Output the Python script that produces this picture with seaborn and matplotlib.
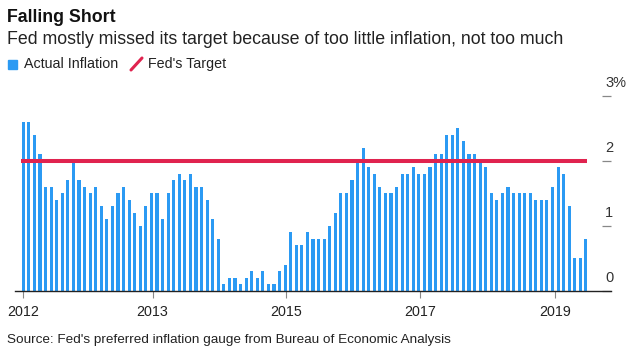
import matplotlib
matplotlib.use("Agg")
import matplotlib.pyplot as plt
import matplotlib.lines as mlines
import matplotlib.patches as mpatches
import seaborn as sns

# monthly inflation readings (%)
inflation = [2.6, 2.6, 2.4, 2.1, 1.6, 1.6, 1.4, 1.5, 1.7, 2.0, 1.7, 1.6,
             1.5, 1.6, 1.3, 1.1, 1.3, 1.5, 1.6, 1.4, 1.2, 1.0, 1.3, 1.5,
             1.5, 1.1, 1.5, 1.7, 1.8, 1.7, 1.8, 1.6, 1.6, 1.4, 1.1, 0.8,
             0.1, 0.2, 0.2, 0.1, 0.2, 0.3, 0.2, 0.3, 0.1, 0.1, 0.3, 0.4,
             0.9, 0.7, 0.7, 0.9, 0.8, 0.8, 0.8, 1.0, 1.2, 1.5, 1.5, 1.7,
             2.0, 2.2, 1.9, 1.8, 1.6, 1.5, 1.5, 1.6, 1.8, 1.8, 1.9, 1.8,
             1.8, 1.9, 2.1, 2.1, 2.4, 2.4, 2.5, 2.3, 2.1, 2.1, 2.0, 1.9,
             1.5, 1.4, 1.5, 1.6, 1.5, 1.5, 1.5, 1.5, 1.4, 1.4, 1.4, 1.6,
             1.9, 1.8, 1.3, 0.5, 0.5, 0.8]
target = 2.0
year_labels = ["2012", "2013", "2015", "2017", "2019"]
year_pos = [0, 23.2, 47.2, 71.3, 95.4]
y_ticks = [0, 1, 2, 3]
y_labels = ["0", "1", "2", "3%"]

BLUE = "#2b9af3"
RED = "#e0234f"

sns.set_style("white")
plt.rcParams["font.family"] = ["Liberation Sans", "DejaVu Sans"]

fig = plt.figure(figsize=(6.3, 3.53), dpi=100)
W, H = 630, 353
ax = fig.add_axes([15 / W, (H - 291) / H, (611 - 15) / W, (291 - 92.4) / H])

sns.barplot(x=list(range(len(inflation))), y=inflation, color=BLUE,
            width=0.56, saturation=1, linewidth=0, edgecolor="none", ax=ax)
ax.hlines(target, -0.4, len(inflation) - 0.8, color=RED, lw=2.9, zorder=5)

ax.set_xlim(-1.49, 105.5)
ax.set_ylim(0, 3.05)
for s in ["top", "left", "right"]:
    ax.spines[s].set_visible(False)
ax.spines["bottom"].set_color("#222222")
ax.spines["bottom"].set_linewidth(1.0)

ax.set_xticks(year_pos)
ax.set_xticklabels(year_labels, fontsize=10.3, color="#222222")
ax.tick_params(axis="x", length=5, width=0.8, color="#888888", pad=5,
               bottom=True)

ax.yaxis.tick_right()
ax.set_yticks(y_ticks)
ax.set_yticklabels([])
ax.tick_params(axis="y", direction="in", length=6.5, width=0.9,
               color="#888888", right=True, left=False)
for v, lbl in zip(y_ticks, y_labels):
    ax.annotate(lbl, xy=(1, v), xycoords=("axes fraction", "data"),
                xytext=(-6, 6), textcoords="offset pixels",
                ha="left", va="bottom", fontsize=10.5, color="#333333",
                annotation_clip=False)

# title block
fig.text(7 / W, 1 - 18 / H, "Falling Short", fontsize=12.8,
         fontweight="bold", va="center", ha="left", color="#111111")
fig.text(7 / W, 1 - 39.5 / H,
         "Fed mostly missed its target because of too little inflation, not too much",
         fontsize=12.8, va="center", ha="left", color="#222222")

# legend
fig.add_artist(mpatches.Rectangle((8 / W, 1 - 69 / H), 9 / W, 9 / H,
                                  color=BLUE, transform=fig.transFigure))
fig.text(24 / W, 1 - 64 / H, "Actual Inflation", fontsize=10.3,
         va="center", ha="left", color="#222222")
fig.add_artist(mlines.Line2D([131 / W, 142 / W], [1 - 70 / H, 1 - 58 / H],
                             color=RED, lw=2.2, transform=fig.transFigure))
fig.text(148 / W, 1 - 64 / H, "Fed's Target", fontsize=10.3,
         va="center", ha="left", color="#222222")

fig.text(7 / W, 1 - 340 / H,
         "Source: Fed's preferred inflation gauge from Bureau of Economic Analysis",
         fontsize=9.7, va="center", ha="left", color="#222222")

fig.savefig("out.png", dpi=100)
